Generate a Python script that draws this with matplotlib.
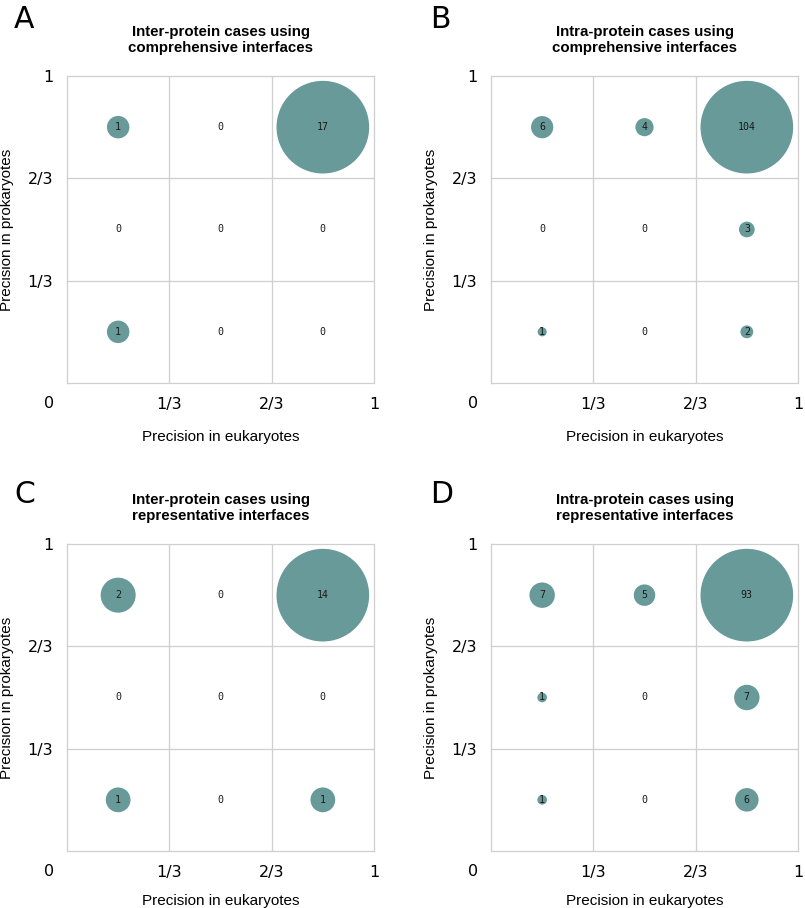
import matplotlib
matplotlib.use("Agg")
import matplotlib.pyplot as plt
import numpy as np

# counts per cell, rows = prokaryote precision bin (top -> bottom), cols = eukaryote bin (left -> right)
counts_a = [[1, 0, 17], [0, 0, 0], [1, 0, 0]]
counts_b = [[6, 4, 104], [0, 0, 3], [1, 0, 2]]
counts_c = [[2, 0, 14], [0, 0, 0], [1, 0, 1]]
counts_d = [[7, 5, 93], [1, 0, 7], [1, 0, 6]]

titles = [
    "Inter-protein cases using\ncomprehensive interfaces",
    "Intra-protein cases using\ncomprehensive interfaces",
    "Inter-protein cases using\nrepresentative interfaces",
    "Intra-protein cases using\nrepresentative interfaces",
]
letters = ["A", "B", "C", "D"]
bin_centers = [1 / 6, 1 / 2, 5 / 6]
tick_pos = [1 / 3, 2 / 3, 1]
tick_labels = ["1/3", "2/3", "1"]

COLOR = "#689a9a"
GRID = "#cfcfcf"
W, H = 805, 908


def draw(ax, counts, title, xpad):
    counts = np.array(counts)
    nmax = counts.max()
    xs, ys, ss = [], [], []
    for r in range(3):
        for c in range(3):
            x = bin_centers[c]
            y = bin_centers[2 - r]
            n = counts[r, c]
            xs.append(x); ys.append(y); ss.append(4450 * n / nmax)
            ax.text(x, y, str(n), ha="center", va="center", fontsize=7.2,
                    family="DejaVu Sans Mono", color="#1a1a1a", zorder=4)
    ax.scatter(xs, ys, s=ss, color=COLOR, edgecolors="none", zorder=3)
    ax.set_xlim(0, 1)
    ax.set_ylim(0, 1)
    for v in (1 / 3, 2 / 3):
        ax.axvline(v, color=GRID, lw=0.9, zorder=1)
        ax.axhline(v, color=GRID, lw=0.9, zorder=1)
    for s in ax.spines.values():
        s.set_color(GRID)
        s.set_linewidth(0.9)
    ax.set_xticks(tick_pos, tick_labels)
    ax.set_yticks(tick_pos, tick_labels)
    ax.tick_params(length=0, labelsize=11.5, pad=10)
    ax.text(-0.058, -0.068, "0", transform=ax.transAxes, ha="center", va="center", fontsize=11.5)
    ax.set_xlabel("Precision in eukaryotes", family="Liberation Sans", fontsize=11, labelpad=xpad)
    ax.set_ylabel("Precision in prokaryotes", family="Liberation Sans", fontsize=11, labelpad=10)
    ax.set_title(title, family="Liberation Sans", fontweight="bold", fontsize=10.8, pad=17,
                 linespacing=1.2)


fig = plt.figure(figsize=(W / 100, H / 100), dpi=100)
# axes boxes in pixels: (left, top)
boxes = [(67, 76), (491, 76), (67, 544), (491, 544)]
side = 307
xpads = [13.4, 13.4, 9.8, 9.8]
letter_pos = [(14, 5), (430, 5), (14, 480), (430, 480)]
for counts, title, (l, t), xp, letter, (lx, ly) in zip(
        [counts_a, counts_b, counts_c, counts_d], titles, boxes, xpads, letters, letter_pos):
    ax = fig.add_axes([l / W, (H - t - side) / H, side / W, side / H])
    draw(ax, counts, title, xp)
    fig.text(lx / W, 1 - ly / H, letter, ha="left", va="top", fontsize=21.5)

fig.savefig("out.png", dpi=100)
